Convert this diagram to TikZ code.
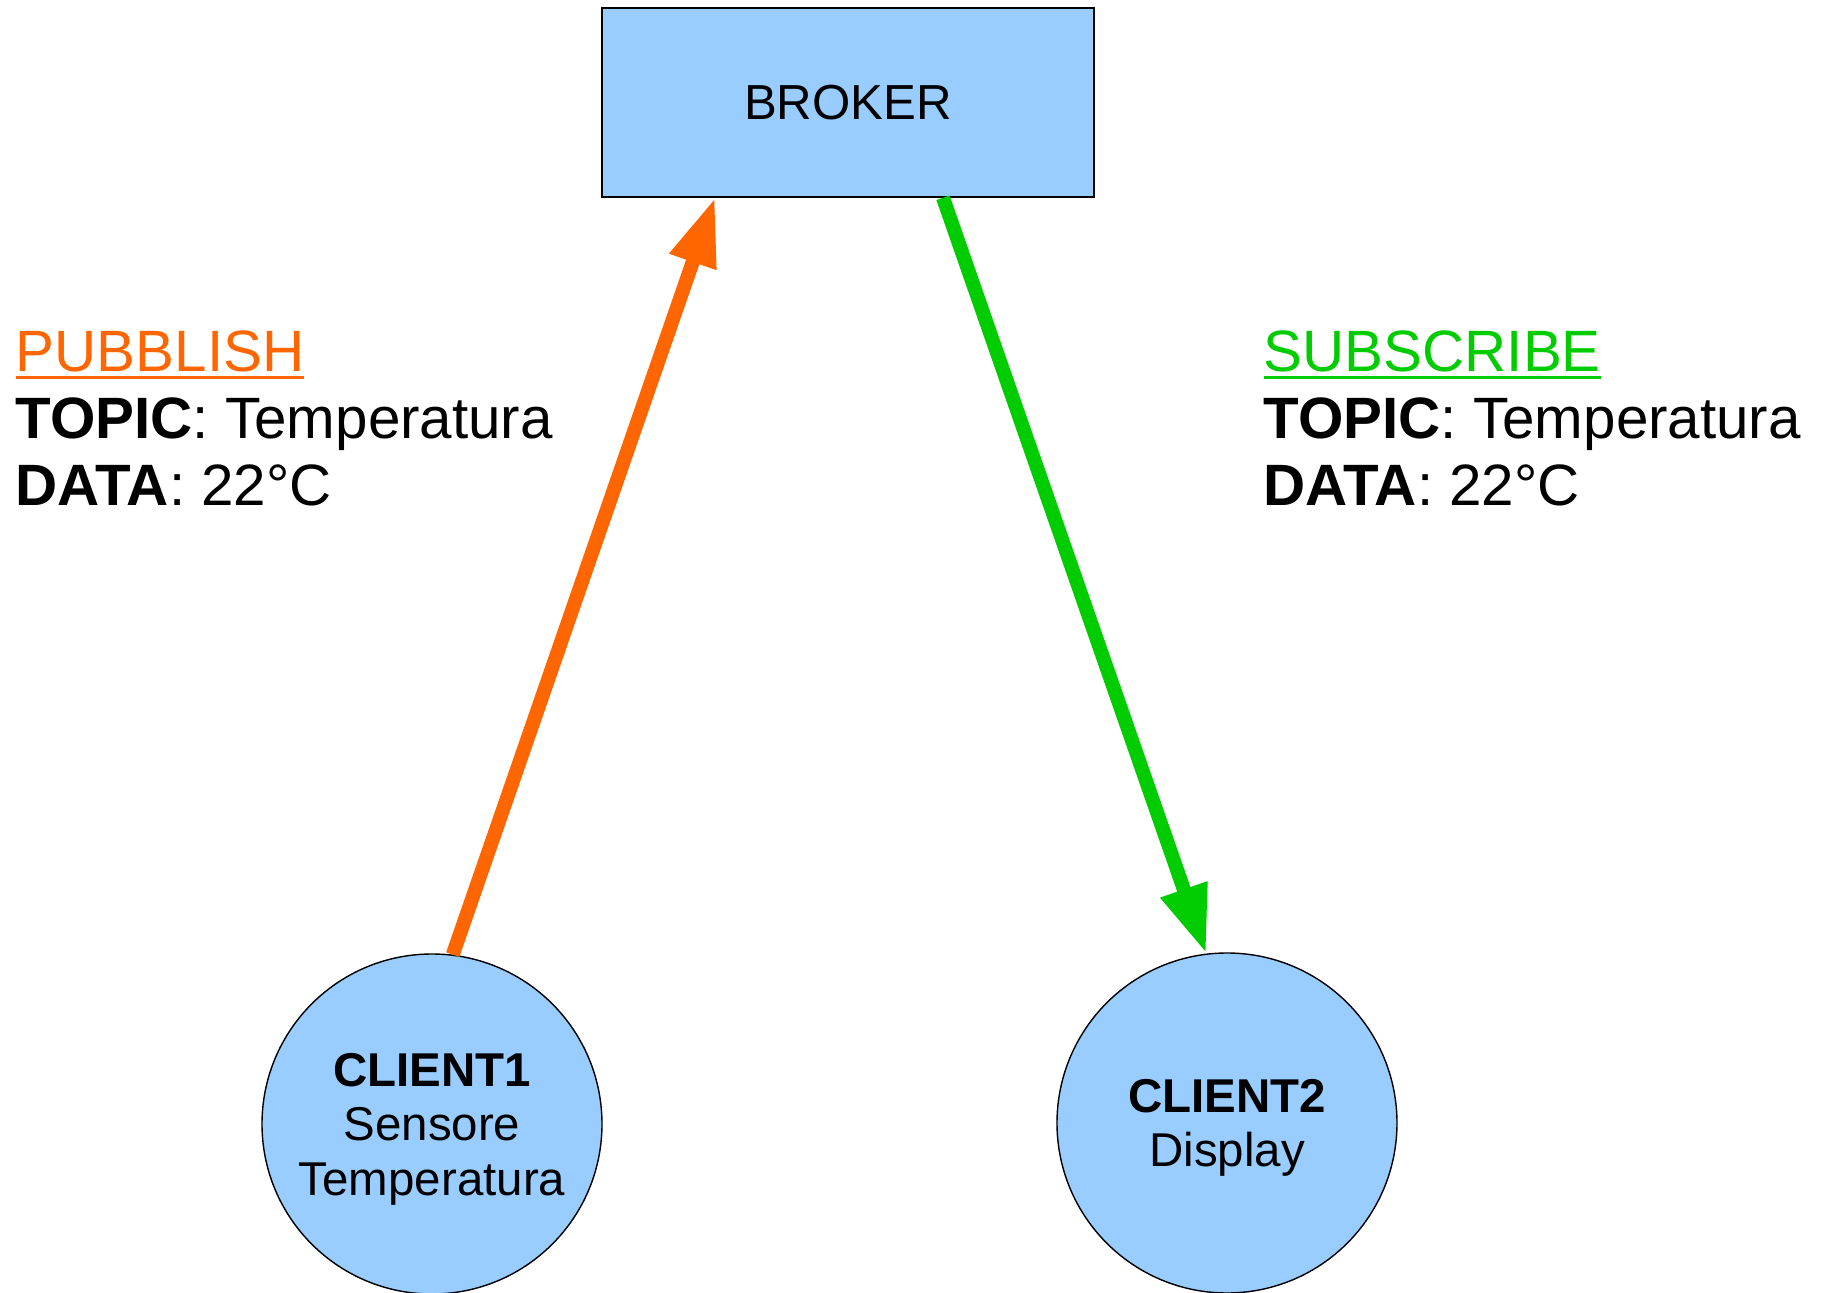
\documentclass[tikz,border=0pt]{standalone}
\usepackage{fontspec}
\setmainfont{Liberation Sans}
\usetikzlibrary{arrows.meta}

\definecolor{pubcolor}{HTML}{FF6600}
\definecolor{subcolor}{HTML}{00CC00}
\definecolor{nodeblue}{HTML}{99CCFF}

% underline a bit heavier than \underline
\newcommand{\heavyul}[1]{\setbox0\hbox{#1}\rlap{\rule[-2.2pt]{\wd0}{0.85pt}}\box0}

\begin{document}
\begin{tikzpicture}[
  box/.style={draw, line width=0.4pt, fill=nodeblue, minimum width=4.92cm, minimum height=1.89cm, font=\fontsize{14}{16}\selectfont},
  client/.style={draw, circle, line width=0.4pt, fill=nodeblue, minimum size=3.4cm, align=center, text depth=0pt, font=\fontsize{13.5}{15.5}\selectfont},
  msg/.style={anchor=base west, align=left, inner sep=0pt, font=\fontsize{16.6}{19.2}\selectfont},
  flow/.style={line width=0.14cm, -{Triangle[length=0.68cm, width=0.46cm]}}
]
\useasboundingbox (0,0) rectangle (18.26,12.92);
% broker and the two clients
\node[box] (broker) at (8.48,11.895) {BROKER};
\node[client] (c1) at (4.32,1.68) {\textbf{CLIENT1}\\Sensore\\Temperatura};
\node[client] (c2) at (12.27,1.69) {\textbf{CLIENT2}\\Display};
% messages (anchored on the last line)
\node[msg] (pub) at (0.15,7.86) {\textcolor{pubcolor}{\heavyul{PUBBLISH}}\\\textbf{TOPIC}: Temperatura\\\textbf{DATA}: 22°C};
\node[msg] (sub) at (12.63,7.86) {\textcolor{subcolor}{\heavyul{SUBSCRIBE}}\\\textbf{TOPIC}: Temperatura\\\textbf{DATA}: 22°C};
% arrows
\draw[flow, pubcolor] (c1.83) -- ([xshift=-1.33cm]broker.south);
\draw[flow, subcolor] ([xshift=0.95cm]broker.south) -- (c2.97);
\end{tikzpicture}
\end{document}
